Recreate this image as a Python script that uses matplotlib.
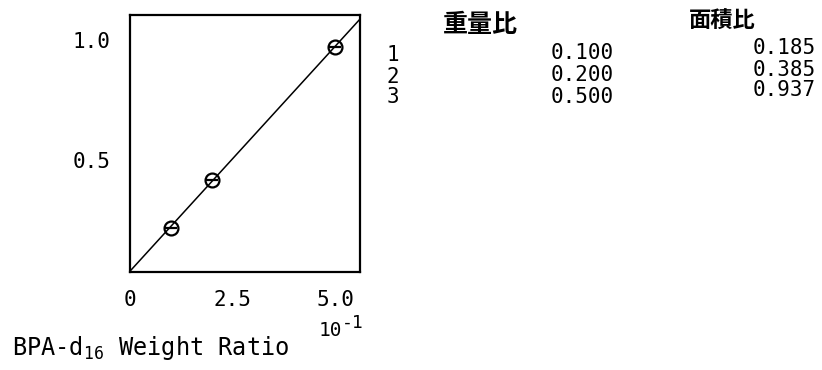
import numpy as np
import matplotlib
matplotlib.use("Agg")
import matplotlib.pyplot as plt

# ---- data ----
weight_ratio = [0.100, 0.200, 0.500]
area_ratio = [0.185, 0.385, 0.937]
row_labels = ["1", "2", "3"]
col_headers = ["重量比", "面積比"]
x_ticks = [0.0, 0.25, 0.5]
x_tick_labels = ["0", "2.5", "5.0"]
y_ticks = [0.5, 1.0]
y_tick_labels = ["0.5", "1.0"]
x_label = r"BPA-d$_{\mathrm{16}}$ Weight Ratio"
x_scale_label = ["10", "-1"]

plt.rcParams["mathtext.fontset"] = "custom"
plt.rcParams["mathtext.rm"] = "DejaVu Sans Mono"
plt.rcParams["mathtext.default"] = "rm"

W, H = 822, 370
fig = plt.figure(figsize=(W / 100, H / 100), dpi=100)

def fx(px):
    return px / W

def fy(py):
    return 1 - py / H

ax_l, ax_r, ax_t, ax_b = 130, 360, 15, 272
ax = fig.add_axes([fx(ax_l), fy(ax_b), (ax_r - ax_l) / W, (ax_b - ax_t) / H])
ax.set_xlim(0, 0.561)
ax.set_ylim(0, 1.07)

mono = "DejaVu Sans Mono"

# fit line through data
xa = np.array(weight_ratio)
ya = np.array(area_ratio)
slope, intercept = np.polyfit(xa, ya, 1)
xl = np.array([0, 0.6])
ax.plot(xl, slope * xl + intercept, color="black", lw=1.1, clip_on=True)

ax.plot(weight_ratio, area_ratio, "o", mfc="none", mec="black", ms=10, mew=1.6)
ax.plot(weight_ratio, area_ratio, "_", color="black", ms=9, mew=1.6)

for s in ax.spines.values():
    s.set_linewidth(1.6)

ax.set_xticks(x_ticks)
ax.set_xticklabels(x_tick_labels, family=mono, fontsize=15)
ax.set_yticks(y_ticks)
ax.set_yticklabels(y_tick_labels, family=mono, fontsize=15)
ax.tick_params(axis="both", length=0)
ax.tick_params(axis="x", pad=13)
ax.tick_params(axis="y", pad=14)
for t in ax.get_yticklabels():
    t.set_va("top")

# axis label and scale
fig.text(fx(12), fy(348), x_label, family=mono, fontsize=17, ha="left", va="center")
fig.text(fx(342), fy(330), x_scale_label[0], family=mono, fontsize=14, ha="right", va="center")
fig.text(fx(342), fy(323), x_scale_label[1], family=mono, fontsize=13, ha="left", va="center")

# table
cjk = ["Noto Sans CJK JP", "DejaVu Sans"]
fig.text(fx(480), fy(25), col_headers[0], family=cjk, fontsize=18, weight="bold",
         ha="center", va="center")
fig.text(fx(722), fy(21), col_headers[1], family=cjk, fontsize=16, weight="bold",
         ha="center", va="center")

row_y = [55, 77, 97]
w_y = [53, 75, 97]
a_y = [48, 70, 90]
for lab, ry, wv, wy, av, ay in zip(row_labels, row_y, weight_ratio, w_y, area_ratio, a_y):
    fig.text(fx(393), fy(ry), lab, family=mono, fontsize=15, ha="center", va="center")
    fig.text(fx(614), fy(wy), f"{wv:.3f}", family=mono, fontsize=15, ha="right", va="center")
    fig.text(fx(816), fy(ay), f"{av:.3f}", family=mono, fontsize=15, ha="right", va="center")

fig.savefig("out.png", dpi=100)
